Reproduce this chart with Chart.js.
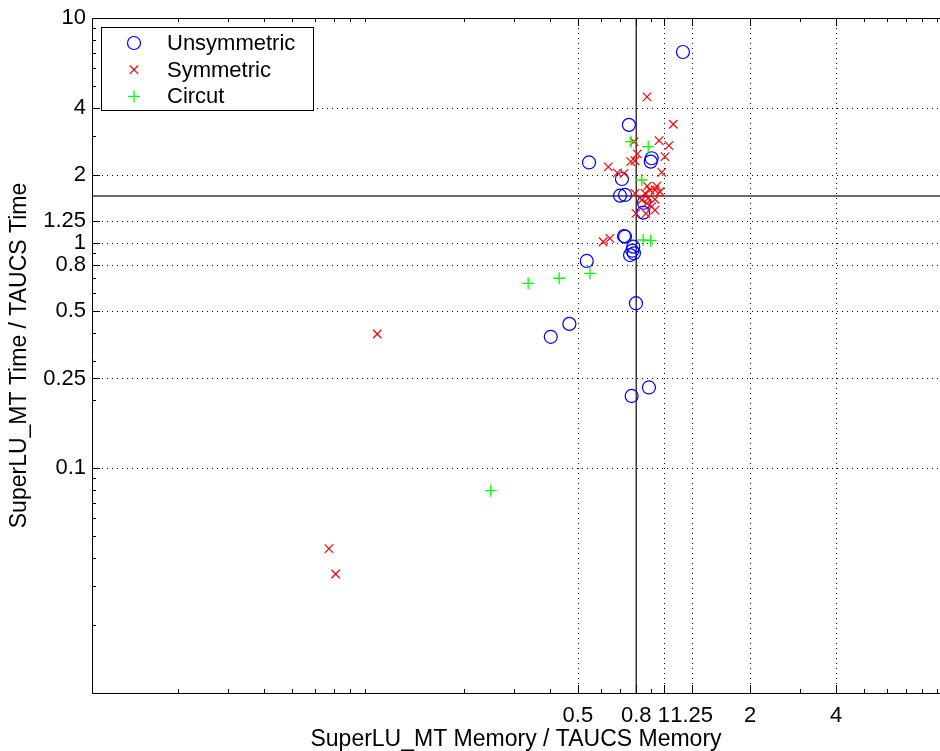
<!DOCTYPE html>
<html>
<head>
<meta charset="utf-8">
<script src="https://cdn.jsdelivr.net/npm/chart.js@4.4.0/dist/chart.umd.min.js"></script>
<style>
  html, body { margin: 0; padding: 0; background: #fff; }
  #wrap { width: 940px; height: 751px; }
</style>
</head>
<body>
<div id="wrap"><canvas id="chart" width="940" height="751"></canvas></div>
<script>
const seriesNames = ["Unsymmetric", "Symmetric", "Circut"];

const unsymX = [1.165, 0.754, 0.547, 0.906, 0.899, 0.713, 0.702, 0.731, 0.851, 0.846, 0.725,
  0.731, 0.781, 0.775, 0.785, 0.761, 0.537, 0.798, 0.467, 0.402, 0.886, 0.771];
const unsymY = [7.06, 3.35, 2.28, 2.38, 2.30, 1.925, 1.623, 1.635, 1.51, 1.364, 1.074,
  1.067, 0.963, 0.924, 0.900, 0.884, 0.832, 0.540, 0.437, 0.383, 0.228, 0.209];

const symX = [0.872, 1.078, 0.961, 1.041, 0.785, 0.807, 1.008, 0.765, 0.792, 0.639, 0.687,
  0.725, 0.982, 0.792, 0.874, 0.943, 0.894, 0.930, 0.858, 0.968, 0.881, 0.836, 0.930,
  0.870, 0.906, 0.930, 0.798, 0.865, 0.613, 0.647, 0.0994, 0.0674, 0.0711];
const symY = [4.46, 3.37, 2.85, 2.71, 2.82, 2.49, 2.42, 2.30, 2.32, 2.18, 2.05,
  2.04, 2.06, 1.663, 1.79, 1.79, 1.72, 1.72, 1.663, 1.69, 1.58, 1.553, 1.564,
  1.50, 1.45, 1.40, 1.355, 1.35, 1.013, 1.049, 0.394, 0.0438, 0.0338];

const circX = [0.767, 0.881, 0.836, 0.846, 0.899, 0.551, 0.430, 0.335, 0.248];
const circY = [2.82, 2.68, 1.905, 1.031, 1.024, 0.733, 0.697, 0.662, 0.0793];

const xTicks = [0.5, 0.8, 1, 1.25, 2, 4];
const yTicks = [0.1, 0.25, 0.5, 0.8, 1, 1.25, 2, 4, 10];
const xRange = [0.01, 9.23];
const yRange = [0.01, 10];
const refX = 0.8;      // vertical reference line
const refY = 1.618;    // horizontal reference line

const FONT = "'Liberation Sans', Arial, Helvetica, sans-serif";

const toPoints = (xs, ys) => xs.map((x, i) => ({ x: x, y: ys[i] }));

// minor log ticks 2..9 in each decade inside a range
function minorTicks(range) {
  const out = [];
  for (let e = -3; e <= 2; e++) {
    for (let m = 2; m <= 9; m++) {
      const v = m * Math.pow(10, e);
      if (v > range[0] && v < range[1]) out.push(v);
    }
  }
  return out;
}

const axesDecor = {
  id: "axesDecor",
  beforeDatasetsDraw(chart) {
    const { ctx, chartArea: a, scales: { x, y } } = chart;
    ctx.save();
    ctx.strokeStyle = "#000";
    ctx.lineWidth = 1;
    ctx.setLineDash([1, 4]);
    xTicks.forEach(v => {
      const px = Math.round(x.getPixelForValue(v)) + 0.5;
      ctx.beginPath(); ctx.moveTo(px, a.top); ctx.lineTo(px, a.bottom); ctx.stroke();
    });
    yTicks.forEach(v => {
      const py = Math.round(y.getPixelForValue(v)) + 0.5;
      ctx.beginPath(); ctx.moveTo(a.left, py); ctx.lineTo(a.right, py); ctx.stroke();
    });
    ctx.restore();
  },
  afterDatasetsDraw(chart) {
    const { ctx, chartArea: a, scales: { x, y } } = chart;
    ctx.save();
    ctx.strokeStyle = "#000";
    ctx.lineWidth = 1;
    ctx.setLineDash([]);
    // box
    ctx.beginPath();
    ctx.moveTo(a.left + 0.5, a.top + 0.5);
    ctx.lineTo(a.right, a.top + 0.5);
    ctx.moveTo(a.left + 0.5, a.top);
    ctx.lineTo(a.left + 0.5, a.bottom);
    ctx.moveTo(a.left, a.bottom + 0.5);
    ctx.lineTo(a.right, a.bottom + 0.5);
    ctx.stroke();
    // inward ticks
    const tick = (v, len, horiz) => {
      if (horiz) {
        const px = Math.round(x.getPixelForValue(v)) + 0.5;
        ctx.beginPath();
        ctx.moveTo(px, a.bottom); ctx.lineTo(px, a.bottom - len);
        ctx.moveTo(px, a.top); ctx.lineTo(px, a.top + len);
        ctx.stroke();
      } else {
        const py = Math.round(y.getPixelForValue(v)) + 0.5;
        ctx.beginPath();
        ctx.moveTo(a.left, py); ctx.lineTo(a.left + len, py);
        ctx.stroke();
      }
    };
    minorTicks(xRange).forEach(v => tick(v, 4, true));
    minorTicks(yRange).forEach(v => tick(v, 4, false));
    xTicks.forEach(v => tick(v, 8, true));
    yTicks.forEach(v => tick(v, 8, false));
    ctx.restore();
  },
  afterDraw(chart) {
    // legend box in the top-left corner of the axes
    const { ctx } = chart;
    const bx = 101, by = 27, bw = 212, bh = 83;
    ctx.save();
    ctx.fillStyle = "#fff";
    ctx.fillRect(bx, by, bw, bh);
    ctx.strokeStyle = "#000";
    ctx.lineWidth = 1;
    ctx.strokeRect(bx + 0.5, by + 0.5, bw, bh);
    ctx.font = "22px " + FONT;
    ctx.textBaseline = "middle";
    chart.data.datasets.slice(0, 3).forEach((ds, i) => {
      const cy = by + 16 + i * 26.7;
      ctx.fillStyle = "rgba(0,0,0,0)";
      ctx.strokeStyle = ds.borderColor;
      ctx.lineWidth = ds.borderWidth;
      Chart.helpers.drawPoint(ctx, {
        pointStyle: ds.pointStyle,
        radius: ds.pointRadius,
        borderWidth: ds.borderWidth
      }, bx + 33, cy);
      ctx.fillStyle = "#000";
      ctx.fillText(ds.label, bx + 66, cy + 1);
    });
    ctx.restore();
  }
};

new Chart(document.getElementById("chart"), {
  type: "scatter",
  data: {
    datasets: [
      {
        label: seriesNames[0],
        data: toPoints(unsymX, unsymY),
        pointStyle: "circle",
        pointRadius: 6.5,
        borderColor: "#0000ff",
        backgroundColor: "rgba(0,0,0,0)",
        borderWidth: 1.2,
        order: 3
      },
      {
        label: seriesNames[1],
        data: toPoints(symX, symY),
        pointStyle: "crossRot",
        pointRadius: 6,
        borderColor: "#ff0000",
        backgroundColor: "#ff0000",
        borderWidth: 1.2,
        order: 2
      },
      {
        label: seriesNames[2],
        data: toPoints(circX, circY),
        pointStyle: "cross",
        pointRadius: 6,
        borderColor: "#00ff00",
        backgroundColor: "#00ff00",
        borderWidth: 1.3,
        order: 1
      },
      {
        label: "refY",
        type: "line",
        data: [{ x: xRange[0], y: refY }, { x: xRange[1], y: refY }],
        borderColor: "#3a3a3a",
        borderWidth: 1.5,
        pointRadius: 0,
        showLine: true,
        order: 5
      },
      {
        label: "refX",
        type: "line",
        data: [{ x: refX, y: yRange[0] }, { x: refX, y: yRange[1] }],
        borderColor: "#3a3a3a",
        borderWidth: 1.5,
        pointRadius: 0,
        showLine: true,
        order: 5
      }
    ]
  },
  options: {
    responsive: false,
    devicePixelRatio: 1,
    animation: false,
    layout: { autoPadding: false, padding: { top: 18, right: 0, left: 0, bottom: 0 } },
    plugins: {
      legend: { display: false },
      tooltip: { enabled: false }
    },
    scales: {
      x: {
        type: "logarithmic",
        min: xRange[0],
        max: xRange[1],
        afterBuildTicks: scale => { scale.ticks = xTicks.map(v => ({ value: v })); },
        afterFit: scale => {
          scale.height = 58;
          scale.paddingLeft = 0;
          scale.paddingRight = 0;
        },
        grid: { display: false, drawTicks: false },
        border: { display: false },
        ticks: {
          autoSkip: false,
          maxRotation: 0,
          minRotation: 0,
          padding: 10,
          color: "#000",
          font: { family: FONT, size: 22 },
          callback: v => String(v)
        },
        title: {
          display: true,
          text: "SuperLU_MT Memory / TAUCS Memory",
          color: "#000",
          font: { family: FONT, size: 23, lineHeight: 1 },
          padding: { top: 0, bottom: 0 }
        }
      },
      y: {
        type: "logarithmic",
        min: yRange[0],
        max: yRange[1],
        afterBuildTicks: scale => { scale.ticks = yTicks.map(v => ({ value: v })); },
        afterFit: scale => {
          scale.width = 92;
          scale.paddingTop = 0;
          scale.paddingBottom = 0;
        },
        grid: { display: false, drawTicks: false },
        border: { display: false },
        ticks: {
          autoSkip: false,
          padding: 6,
          color: "#000",
          font: { family: FONT, size: 22 },
          callback: v => String(v)
        },
        title: {
          display: true,
          text: "SuperLU_MT Time / TAUCS Time",
          color: "#000",
          font: { family: FONT, size: 23, lineHeight: 1 },
          padding: { top: 8, bottom: 0 }
        }
      }
    }
  },
  plugins: [axesDecor]
});
</script>
</body>
</html>
